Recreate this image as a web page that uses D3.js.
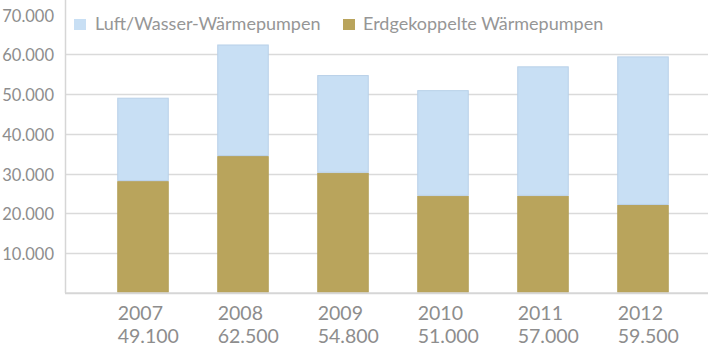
<!DOCTYPE html>
<html><head><meta charset="utf-8">
<script src="https://cdn.jsdelivr.net/npm/d3@7"></script>
<style>html,body{margin:0;padding:0;background:#fff;}svg{display:block;}</style>
</head><body>
<script>
const years = ["2007","2008","2009","2010","2011","2012"];
const totals = [49100, 62500, 54800, 51000, 57000, 59500];
const totalLabels = ["49.100","62.500","54.800","51.000","57.000","59.500"];
const erdgekoppelt = [28100, 34400, 30200, 24400, 24400, 22100];
const luftWasser = totals.map((t,i)=>t-erdgekoppelt[i]);
const yTicks = [10000,20000,30000,40000,50000,60000,70000];
const yTickLabels = ["10.000","20.000","30.000","40.000","50.000","60.000","70.000"];
const seriesNames = ["Luft/Wasser-Wärmepumpen","Erdgekoppelte Wärmepumpen"];

const W=708,H=348;
const font="Lato, 'Open Sans', sans-serif";
const textColor="#8d8d8d";
const svg=d3.select("body").append("svg").attr("width",W).attr("height",H);

const x=d3.scaleBand().domain(years).range([93,693]).paddingInner(0.485).paddingOuter(0.2425);
const y=d3.scaleLinear().domain([0,70000]).range([292.7,14.7]);

// gridlines
svg.append("g").selectAll("line").data(yTicks.filter(t=>t<70000)).join("line")
  .attr("x1",66).attr("x2",W).attr("y1",d=>Math.round(y(d))+0.5).attr("y2",d=>Math.round(y(d))+0.5)
  .attr("stroke","#dadada").attr("stroke-width",1.3);

// y labels
svg.append("g").selectAll("text").data(yTicks).join("text")
  .attr("x",54).attr("y",d=>y(d)+7).attr("text-anchor","end")
  .attr("font-family",font).attr("font-size",16.5).attr("fill",textColor)
  .text((d,i)=>yTickLabels[i]);

// stacked data
const stackData = years.map((yr,i)=>({year:yr, erd:erdgekoppelt[i], luft:luftWasser[i]}));
const stack=d3.stack().keys(["erd","luft"])(stackData);
const colors={erd:"#b9a45c",luft:"#c8dff4"};
const strokes={erd:"#b4a05a",luft:"#b8d0e8"};
svg.append("g").selectAll("g").data(stack).join("g")
  .attr("fill",d=>colors[d.key]).attr("stroke",d=>strokes[d.key]).attr("stroke-width",1)
  .selectAll("rect").data(d=>d).join("rect")
  .attr("x",d=>x(d.data.year)+0.5).attr("width",x.bandwidth()-1)
  .attr("y",d=>y(d[1])+0.5).attr("height",d=>y(d[0])-y(d[1])-1);

// axes lines
svg.append("line").attr("x1",65.5).attr("x2",65.5).attr("y1",0).attr("y2",293).attr("stroke","#d6d6d6").attr("stroke-width",1.5);
svg.append("line").attr("x1",65).attr("x2",W).attr("y1",y(0)+0.5).attr("y2",y(0)+0.5).attr("stroke","#d6d6d6").attr("stroke-width",2);

// x labels
const xl=svg.append("g").attr("font-family",font).attr("font-size",19.5).attr("fill",textColor);
xl.selectAll("text.yr").data(years).join("text").attr("class","yr")
  .attr("x",d=>x(d)+0.5).attr("y",320).text(d=>d);
xl.selectAll("text.tot").data(years).join("text").attr("class","tot")
  .attr("x",d=>x(d)+0.5).attr("y",343).text((d,i)=>totalLabels[i]);

// legend
const leg=svg.append("g").attr("font-family",font).attr("font-size",18).attr("fill","#969696");
const legItems=[{name:seriesNames[0],key:"luft",x:74,tx:95},{name:seriesNames[1],key:"erd",x:343,tx:363}];
legItems.forEach(it=>{
  leg.append("rect").attr("x",it.x).attr("y",19).attr("width",12).attr("height",11).attr("fill",colors[it.key]);
  leg.append("text").attr("x",it.tx).attr("y",29.5).text(it.name);
});
</script>
</body></html>
